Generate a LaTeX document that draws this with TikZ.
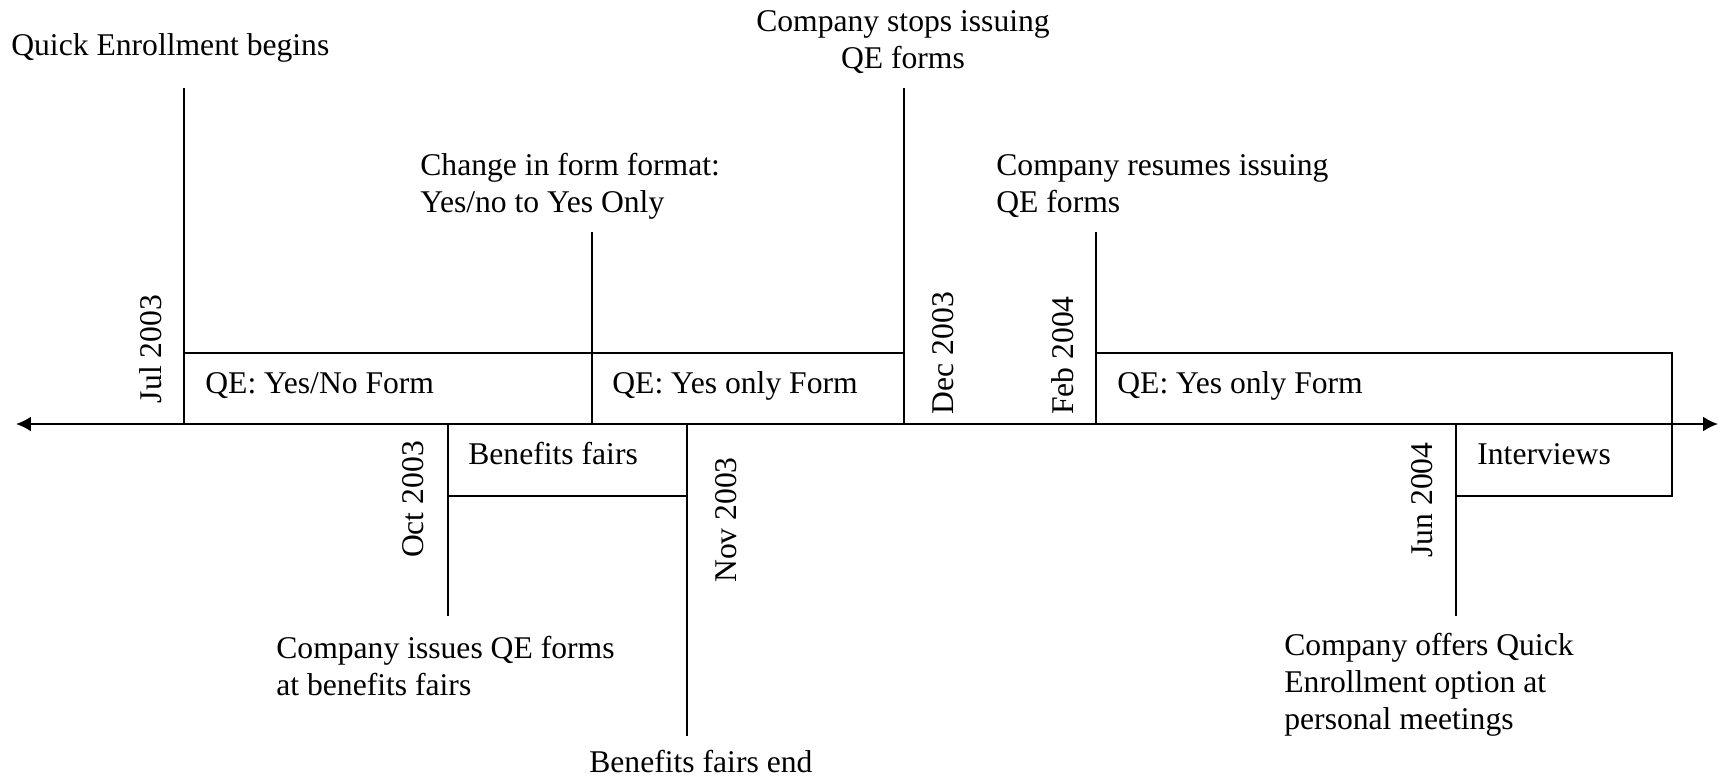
\documentclass[tikz,border=0pt]{standalone}
\usepackage{fontspec}
\setmainfont{Liberation Serif}
\usetikzlibrary{arrows.meta}

\begin{document}
\begin{tikzpicture}[x=0.02cm, y=-0.02cm, font=\fontsize{18}{21}\selectfont]
        % Define styles
        \tikzstyle{event} = [anchor=base west, align=left, inner sep=0pt]
        \tikzstyle{period} = [anchor=base west, inner sep=0pt]
        \tikzstyle{date} = [rotate=90, inner sep=0pt]
        \tikzstyle{tick} = [line width=1.1pt]
        \tikzstyle{arrow} = [line width=1.1pt, {Latex[length=8.5pt,width=8.5pt]}-{Latex[length=8.5pt,width=8.5pt]}]

        \useasboundingbox (0,0) rectangle (1719,779);

        % Points on the time axis
        \coordinate (start) at (16,424);
        \coordinate (stop) at (1718,424);
        \coordinate (jul) at (184,424);
        \coordinate (oct) at (448,424);
        \coordinate (chg) at (592,424);
        \coordinate (nov) at (687,424);
        \coordinate (dec) at (904,424);
        \coordinate (feb) at (1096,424);
        \coordinate (jun) at (1456,424);
        \coordinate (last) at (1672,424);

        % Ends of the event lines
        \coordinate (jul end) at (184,88);
        \coordinate (chg end) at (592,232);
        \coordinate (dec end) at (904,88);
        \coordinate (feb end) at (1096,232);
        \coordinate (oct end) at (448,616);
        \coordinate (nov end) at (687,736);
        \coordinate (jun end) at (1456,616);

        % Nodes (multi-line texts sit on their last baseline)
        \node [event] (begins) at (11,55) {Quick Enrollment begins};
        \node [event] (format) at (420,212) {Change in form format:\\Yes/no to Yes Only};
        \node [event, anchor=base, align=center] (stops) at (903,68) {Company stops issuing\\QE forms};
        \node [event] (resumes) at (996,212) {Company resumes issuing\\QE forms};
        \node [event] (fairs) at (276,695) {Company issues QE forms\\at benefits fairs};
        \node [event] (fairsend) at (589,772) {Benefits fairs end};
        \node [event] (offers) at (1284,729) {Company offers Quick\\Enrollment option at\\personal meetings};

        \node [period] (yesno) at (205,393) {QE: Yes/No Form};
        \node [period] (yesonly) at (612,393) {QE: Yes only Form};
        \node [period] (yesonly2) at (1117,393) {QE: Yes only Form};
        \node [period] (benefits) at (468,464) {Benefits fairs};
        \node [period] (interviews) at (1477,464) {Interviews};

        % Arrows
        \draw [arrow] (start) -- (stop);
        \draw [tick] (jul) -- (jul end);
        \draw [tick] (chg) -- (chg end);
        \draw [tick] (dec) -- (dec end);
        \draw [tick] (feb) -- (feb end);
        \draw [tick] (oct) -- (oct end);
        \draw [tick] (nov) -- (nov end);
        \draw [tick] (jun) -- (jun end);

        % Bars
        \draw [tick] (jul |- 0,353) -- (dec |- 0,353);
        \draw [tick] (feb |- 0,353) -| (last |- 0,496) -- (jun |- 0,496);
        \draw [tick] (oct |- 0,496) -- (nov |- 0,496);

        % Labels
        \node [date] (jul date) at (150.5,349) {Jul 2003};
        \node [date] (dec date) at (943,353) {Dec 2003};
        \node [date] (feb date) at (1062.5,355.5) {Feb 2004};
        \node [date] (oct date) at (413.5,499.5) {Oct 2003};
        \node [date] (nov date) at (726.5,520) {Nov 2003};
        \node [date] (jun date) at (1422.5,500) {Jun 2004};
    \end{tikzpicture}
\end{document}
